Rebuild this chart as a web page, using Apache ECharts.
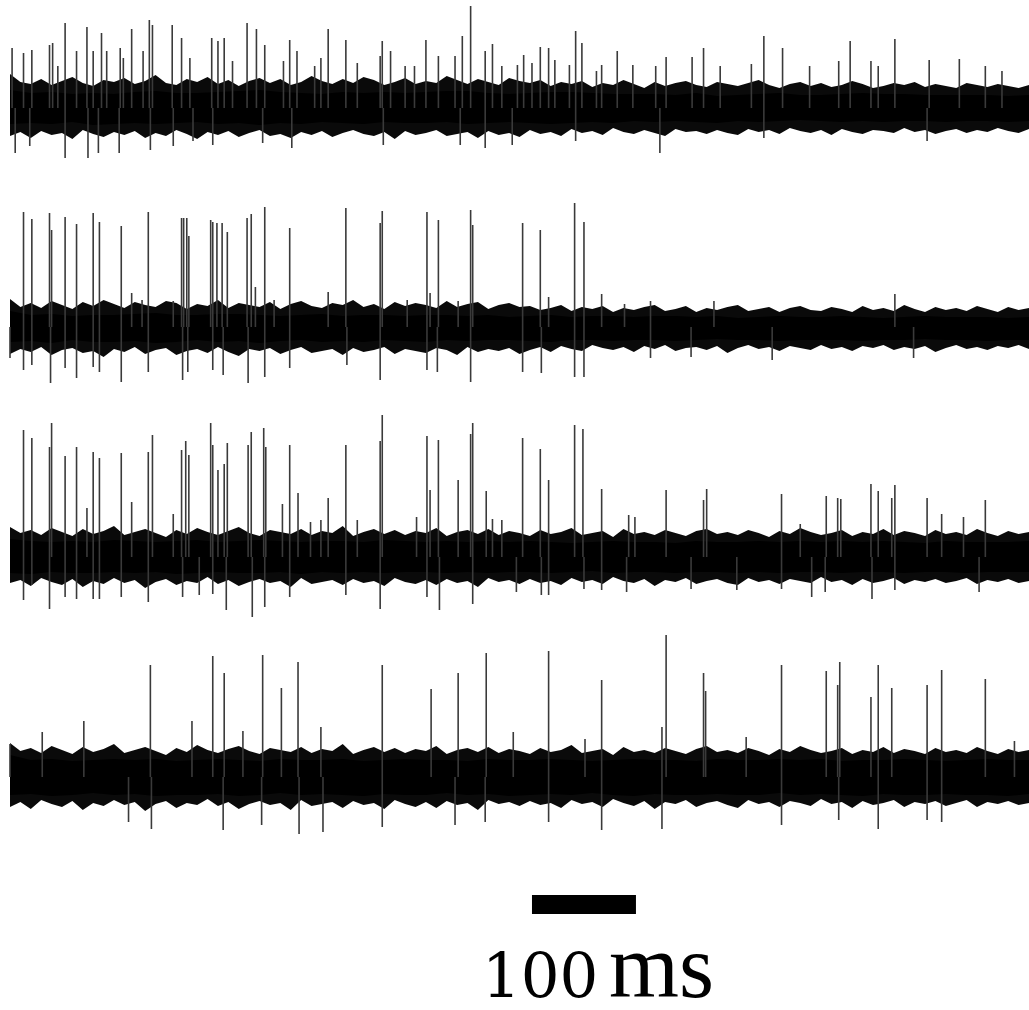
<!DOCTYPE html>
<html>
<head>
<meta charset="utf-8">
<script src="https://cdn.jsdelivr.net/npm/echarts@6/dist/echarts.min.js"></script>
<style>
  html, body { margin: 0; background: #fff; }
  #chart { width: 1029px; height: 1010px; }
</style>
</head>
<body>
<div id="chart"></div>
<script>
// time (ms) where the solid noise core was read, every 20 ms
const coreTimes = [0, 20, 40, 60, 80, 100, 120, 140, 160, 180, 200, 220, 240, 260, 280, 300, 320, 340, 360, 380,
  400, 420, 440, 460, 480, 500, 520, 540, 560, 580, 600, 620, 640, 660, 680, 700, 720, 740, 760, 780,
  800, 820, 840, 860, 880, 900, 920, 940, 960, 980];
// time (ms) where the noise fringe was read, every 10 ms
const fringeTimes = [0, 10, 20, 30, 40, 50, 60, 70, 80, 90, 100, 110, 120, 130, 140, 150, 160, 170, 180, 190,
  200, 210, 220, 230, 240, 250, 260, 270, 280, 290, 300, 310, 320, 330, 340, 350, 360, 370, 380, 390,
  400, 410, 420, 430, 440, 450, 460, 470, 480, 490, 500, 510, 520, 530, 540, 550, 560, 570, 580, 590,
  600, 610, 620, 630, 640, 650, 660, 670, 680, 690, 700, 710, 720, 730, 740, 750, 760, 770, 780, 790,
  800, 810, 820, 830, 840, 850, 860, 870, 880, 890, 900, 910, 920, 930, 940, 950, 960, 970, 980];

// solid core of the noise, upper / lower edge (uV)
const trace1CoreHi = [18, 15, 16, 14, 15, 14, 16, 17, 15, 15, 16, 17, 18, 16, 15, 14, 16, 15, 16, 15,
  16, 17, 17, 15, 14, 15, 16, 16, 15, 14, 14, 14, 13, 15, 12, 13, 14, 15, 13, 13,
  14, 15, 14, 14, 13, 13, 13, 13, 12, 13];
const trace1CoreLo = [-16, -15, -16, -14, -17, -16, -15, -16, -15, -14, -16, -15, -17, -15, -16, -14, -15, -16, -14, -15,
  -15, -14, -16, -15, -14, -15, -16, -15, -14, -15, -13, -14, -13, -14, -15, -13, -14, -13, -12, -13,
  -14, -13, -14, -13, -13, -14, -13, -13, -14, -13];
const trace2CoreHi = [16, 12, 13, 11, 12, 12, 13, 14, 12, 12, 13, 13, 12, 11, 12, 13, 11, 12, 12, 11,
  12, 12, 11, 12, 10, 11, 12, 10, 11, 11, 10, 11, 11, 10, 11, 9, 10, 11, 10, 10,
  11, 10, 9, 10, 11, 10, 10, 10, 9, 10];
const trace2CoreLo = [-15, -14, -16, -13, -15, -15, -14, -16, -15, -13, -15, -14, -16, -14, -13, -15, -14, -15, -13, -14,
  -15, -13, -14, -13, -13, -14, -15, -13, -13, -14, -13, -13, -14, -13, -12, -13, -13, -14, -13, -13,
  -13, -14, -13, -13, -12, -13, -13, -14, -13, -13];
const trace3CoreHi = [18, 16, 15, 16, 15, 17, 16, 15, 16, 17, 15, 16, 17, 16, 15, 16, 16, 15, 17, 16,
  15, 16, 15, 16, 15, 16, 15, 14, 15, 16, 15, 15, 14, 16, 15, 15, 16, 15, 16, 15,
  16, 15, 16, 15, 14, 16, 15, 15, 15, 16];
const trace3CoreLo = [-16, -17, -15, -16, -16, -15, -16, -15, -17, -16, -15, -16, -16, -15, -17, -15, -16, -15, -16, -15,
  -15, -16, -15, -16, -15, -15, -16, -15, -14, -16, -15, -15, -16, -15, -15, -16, -15, -16, -15, -15,
  -16, -15, -15, -16, -15, -15, -16, -15, -15, -15];
const trace4CoreHi = [22, 17, 18, 16, 17, 18, 17, 18, 16, 17, 18, 17, 16, 18, 17, 17, 18, 16, 17, 18,
  17, 17, 16, 18, 17, 17, 18, 17, 16, 17, 18, 17, 17, 16, 18, 17, 17, 18, 17, 18,
  16, 17, 17, 18, 17, 16, 17, 18, 17, 17];
const trace4CoreLo = [-18, -17, -19, -18, -16, -18, -17, -19, -18, -18, -17, -19, -18, -16, -18, -17, -18, -19, -17, -18,
  -18, -16, -18, -17, -19, -18, -17, -18, -16, -18, -19, -17, -18, -18, -17, -18, -18, -16, -18, -17,
  -18, -19, -17, -18, -18, -17, -18, -18, -19, -17];

// noise fringe, reach above / below the core (uV)
const trace1FringeHi = [34, 26, 24, 29, 23, 27, 31, 25, 22, 28, 26, 30, 24, 27, 33, 25, 23, 29, 26, 31,
  24, 28, 22, 27, 30, 25, 29, 23, 26, 32, 27, 24, 29, 25, 31, 28, 23, 26, 30, 24,
  27, 25, 32, 28, 24, 29, 26, 23, 30, 27, 25, 28, 22, 26, 24, 27, 21, 25, 23, 28,
  24, 20, 26, 22, 25, 27, 23, 21, 26, 24, 22, 25, 28, 23, 20, 24, 26, 22, 25, 21,
  23, 27, 24, 20, 22, 25, 23, 26, 21, 24, 22, 20, 25, 23, 21, 24, 22, 20, 23];
const trace1FringeLo = [-28, -24, -30, -23, -27, -25, -31, -22, -26, -29, -24, -27, -23, -30, -25, -28, -22, -26, -31, -24,
  -27, -23, -29, -25, -22, -28, -26, -30, -24, -27, -23, -29, -25, -22, -26, -28, -24, -31, -23, -27,
  -25, -22, -28, -26, -24, -30, -23, -27, -25, -29, -22, -26, -24, -28, -21, -25, -23, -27, -20, -24,
  -26, -22, -25, -28, -21, -24, -23, -26, -22, -25, -27, -21, -24, -22, -26, -20, -23, -25, -22, -27,
  -21, -24, -26, -22, -23, -25, -20, -24, -22, -26, -23, -21, -25, -22, -24, -20, -23, -25, -21];
const trace2FringeHi = [28, 20, 24, 19, 26, 22, 18, 25, 21, 27, 23, 19, 25, 22, 20, 26, 24, 18, 23, 21,
  27, 19, 24, 22, 20, 25, 18, 23, 26, 21, 19, 24, 22, 27, 20, 23, 18, 25, 21, 24,
  22, 19, 26, 20, 23, 25, 18, 22, 24, 20, 21, 17, 19, 22, 16, 20, 18, 21, 15, 19,
  17, 20, 22, 16, 18, 21, 15, 19, 17, 20, 22, 16, 18, 20, 15, 19, 21, 17, 16, 20,
  18, 15, 21, 17, 19, 16, 22, 18, 15, 20, 17, 19, 16, 21, 18, 15, 20, 17, 19];
const trace2FringeLo = [-27, -22, -25, -20, -28, -23, -21, -26, -24, -30, -22, -25, -20, -27, -23, -21, -28, -24, -22, -26,
  -20, -25, -29, -22, -24, -21, -27, -23, -20, -26, -24, -22, -28, -21, -25, -23, -20, -27, -22, -24,
  -26, -21, -23, -28, -20, -25, -22, -24, -21, -27, -23, -20, -25, -19, -22, -24, -18, -21, -23, -20,
  -25, -19, -22, -18, -24, -21, -20, -23, -19, -26, -21, -18, -22, -20, -24, -19, -21, -23, -18, -22,
  -20, -24, -19, -21, -18, -23, -20, -22, -19, -25, -21, -18, -22, -20, -23, -19, -21, -18, -22];
const trace3FringeHi = [30, 24, 27, 22, 29, 25, 21, 28, 23, 26, 31, 22, 25, 28, 24, 20, 27, 23, 29, 25,
  22, 26, 30, 24, 21, 27, 25, 23, 28, 22, 26, 24, 31, 21, 25, 28, 23, 27, 22, 26,
  24, 29, 21, 25, 27, 23, 28, 22, 26, 24, 21, 27, 23, 25, 29, 22, 24, 26, 20, 28,
  23, 25, 22, 27, 24, 21, 26, 28, 23, 25, 22, 27, 24, 20, 26, 23, 29, 25, 22, 24,
  27, 21, 25, 23, 28, 22, 26, 24, 21, 27, 23, 25, 22, 28, 24, 21, 26, 23, 25];
const trace3FringeLo = [-26, -23, -29, -21, -25, -28, -22, -30, -24, -27, -21, -26, -23, -31, -25, -22, -28, -24, -26, -20,
  -27, -23, -29, -25, -22, -26, -24, -30, -21, -27, -25, -23, -28, -22, -26, -24, -29, -21, -25, -27,
  -23, -28, -22, -26, -24, -30, -21, -25, -23, -27, -22, -26, -24, -28, -21, -25, -23, -27, -20, -24,
  -26, -22, -29, -23, -25, -21, -27, -24, -22, -26, -28, -21, -25, -23, -27, -22, -24, -26, -20, -25,
  -23, -28, -22, -26, -24, -21, -27, -23, -25, -22, -26, -24, -21, -27, -23, -25, -22, -26, -24];
const trace4FringeHi = [34, 26, 29, 24, 31, 27, 23, 30, 25, 28, 33, 24, 27, 30, 26, 22, 29, 25, 32, 27,
  24, 28, 31, 26, 23, 29, 27, 25, 30, 24, 28, 26, 33, 23, 27, 30, 25, 29, 24, 28,
  26, 31, 23, 27, 29, 25, 30, 24, 28, 26, 23, 29, 25, 27, 32, 24, 26, 28, 22, 30,
  25, 27, 24, 29, 26, 23, 28, 31, 25, 27, 24, 29, 26, 22, 28, 25, 31, 27, 24, 26,
  29, 23, 27, 25, 30, 24, 28, 26, 23, 29, 25, 27, 24, 30, 26, 23, 28, 25, 27];
const trace4FringeLo = [-30, -25, -32, -23, -27, -30, -24, -33, -26, -29, -23, -28, -25, -34, -27, -24, -31, -26, -28, -22,
  -29, -25, -32, -27, -24, -28, -26, -33, -23, -29, -27, -25, -31, -24, -28, -26, -32, -23, -27, -30,
  -25, -31, -24, -28, -26, -33, -23, -27, -25, -29, -24, -28, -26, -31, -23, -27, -25, -30, -22, -26,
  -29, -24, -32, -25, -27, -23, -30, -26, -24, -28, -31, -23, -27, -25, -30, -24, -26, -29, -22, -27,
  -25, -31, -24, -28, -26, -23, -30, -25, -27, -24, -29, -26, -23, -30, -25, -27, -24, -28, -26];

// spikes: [time ms, peak uV]
const trace1Up = [[2, 60], [13, 55], [21, 58], [38, 63], [41, 65], [46, 42], [53, 85], [64, 57], [74, 81], [80, 57],
  [88, 75], [93, 57], [106, 60], [109, 50], [117, 79], [128, 57], [134, 88], [137, 83], [156, 83], [165, 70],
  [173, 50], [194, 70], [200, 67], [206, 70], [214, 47], [228, 85], [237, 79], [245, 63], [263, 47], [269, 68],
  [276, 57], [293, 42], [299, 50], [306, 79], [323, 68], [334, 45], [356, 52], [358, 67], [366, 57], [380, 42],
  [389, 42], [400, 68], [412, 52], [428, 52], [435, 72], [443, 102], [457, 57], [464, 64], [473, 42], [488, 43],
  [494, 53], [502, 45], [510, 61], [518, 60], [524, 48], [538, 43], [544, 77], [550, 65], [564, 37], [569, 43],
  [584, 57], [599, 43], [621, 42], [631, 51], [656, 51], [667, 60], [683, 42], [713, 44], [725, 72], [743, 60],
  [769, 42], [797, 47], [808, 67], [828, 47], [835, 42], [851, 69], [884, 48], [913, 49], [938, 42], [954, 37]];
const trace1Down = [[5, -45], [19, -38], [53, -50], [75, -50], [85, -45], [105, -45], [135, -42], [157, -38], [176, -33], [195, -37],
  [243, -35], [271, -40], [359, -37], [433, -37], [457, -40], [483, -37], [544, -33], [625, -45], [725, -30], [882, -33]];

const trace2Up = [[13, 115], [21, 108], [38, 114], [40, 97], [53, 110], [64, 103], [80, 114], [86, 105], [107, 101], [117, 34],
  [127, 27], [133, 115], [157, 26], [165, 109], [167, 109], [170, 109], [172, 91], [193, 107], [195, 105], [199, 104],
  [204, 104], [209, 95], [228, 109], [232, 113], [236, 40], [245, 120], [254, 27], [269, 99], [306, 35], [323, 119],
  [356, 104], [358, 116], [382, 27], [401, 115], [404, 34], [412, 107], [431, 26], [443, 117], [445, 102],
  [493, 104], [510, 97], [518, 30], [543, 124], [552, 105], [569, 33], [591, 23], [616, 26], [677, 26], [851, 33]];
const trace2Down = [[0, -31], [13, -43], [21, -38], [39, -56], [53, -41], [64, -51], [80, -40], [86, -45], [107, -55], [133, -45],
  [166, -53], [171, -45], [195, -43], [205, -48], [229, -56], [245, -50], [269, -41], [324, -38], [356, -53], [401, -43],
  [411, -45], [443, -55], [493, -45], [511, -46], [543, -50], [552, -50], [616, -31], [655, -30], [733, -33], [869, -31]];

const trace3Up = [[13, 127], [21, 119], [38, 110], [40, 134], [53, 101], [64, 110], [74, 49], [80, 105], [86, 99], [107, 104],
  [117, 55], [133, 105], [137, 122], [157, 43], [165, 107], [169, 116], [172, 102], [193, 134], [195, 112], [200, 87],
  [206, 93], [209, 114], [229, 112], [232, 125], [244, 129], [246, 110], [262, 53], [269, 112], [277, 64], [289, 35],
  [299, 37], [306, 59], [323, 112], [334, 37], [356, 116], [358, 142], [391, 40], [401, 121], [404, 67], [412, 117],
  [431, 77], [443, 123], [445, 134], [458, 66], [464, 38], [473, 37],
  [493, 119], [510, 108], [518, 77], [543, 132], [551, 128], [569, 68], [595, 42], [601, 40], [631, 67], [667, 57],
  [670, 68], [742, 63], [760, 33], [785, 61], [796, 59], [799, 58], [828, 73], [835, 66], [848, 59], [851, 72],
  [882, 59], [896, 43], [917, 40], [938, 57]];
const trace3Down = [[13, -43], [21, -28], [38, -52], [53, -40], [64, -42], [80, -42], [86, -42], [107, -40], [133, -45], [166, -40],
  [182, -38], [195, -37], [208, -53], [233, -60], [245, -50], [269, -40], [323, -38], [356, -52], [401, -40], [413, -53],
  [445, -47], [487, -35], [511, -38], [518, -38], [552, -32], [569, -33], [593, -35], [655, -32], [699, -33], [742, -32],
  [771, -40], [784, -35], [829, -42], [851, -33], [932, -35]];

const trace4Up = [[0, 33], [31, 45], [71, 56], [135, 112], [175, 56], [195, 121], [206, 104], [224, 46], [243, 122], [261, 89],
  [277, 115], [299, 50], [358, 112], [405, 88], [431, 104], [458, 124], [484, 45],
  [518, 126], [553, 38], [569, 97], [627, 50], [631, 142], [667, 104], [669, 86], [708, 40], [742, 112],
  [785, 106], [796, 92], [798, 115], [828, 80], [835, 112], [848, 89], [882, 92], [896, 107], [938, 98], [966, 36]];
const trace4Down = [[114, -45], [136, -52], [205, -53], [242, -48], [278, -57], [301, -55], [358, -50], [428, -48], [457, -45], [518, -45],
  [569, -53], [627, -52], [742, -48], [797, -43], [835, -52], [882, -43], [896, -45]];

// scale bar: start (ms) and length (ms)
const scaleBarStart = 502;
const scaleBarLength = 100;
const scaleBarNumber = '100';
const scaleBarUnit = 'ms';

const traces = [
  { coreHi: trace1CoreHi, coreLo: trace1CoreLo, fringeHi: trace1FringeHi, fringeLo: trace1FringeLo, up: trace1Up, down: trace1Down },
  { coreHi: trace2CoreHi, coreLo: trace2CoreLo, fringeHi: trace2FringeHi, fringeLo: trace2FringeLo, up: trace2Up, down: trace2Down },
  { coreHi: trace3CoreHi, coreLo: trace3CoreLo, fringeHi: trace3FringeHi, fringeLo: trace3FringeLo, up: trace3Up, down: trace3Down },
  { coreHi: trace4CoreHi, coreLo: trace4CoreLo, fringeHi: trace4FringeHi, fringeLo: trace4FringeLo, up: trace4Up, down: trace4Down }
];

const centers = [108, 327, 557, 777];

const chart = echarts.init(document.getElementById('chart'));

const grids = centers.map(c => ({ left: 10, width: 1019, top: c - 100, height: 200 }));
grids.push({ left: 10, width: 1019, top: 895, height: 19 });

const xAxes = grids.map((g, i) => ({ type: 'value', gridIndex: i, min: 0, max: 980, show: false }));
const yAxes = grids.map((g, i) => ({
  type: 'value', gridIndex: i, min: i < 4 ? -100 : 0, max: i < 4 ? 100 : 1, show: false
}));

// filled band between an upper and a lower edge
function bandSeries(times, hi, lo, i, color) {
  return {
    type: 'custom',
    xAxisIndex: i,
    yAxisIndex: i,
    silent: true,
    data: [[0, 0]],
    renderItem: (params, api) => {
      const upper = times.map((t, k) => api.coord([t, hi[k]]));
      const lower = times.map((t, k) => api.coord([t, lo[k]])).reverse();
      return { type: 'polygon', shape: { points: upper.concat(lower) }, style: { fill: color } };
    }
  };
}

function lineSeries(list, i, color, width) {
  return {
    type: 'custom',
    xAxisIndex: i,
    yAxisIndex: i,
    silent: true,
    data: list,
    renderItem: (params, api) => {
      const a = api.coord([api.value(0), 0]);
      const b = api.coord([api.value(0), api.value(1)]);
      return {
        type: 'line',
        shape: { x1: a[0], y1: a[1], x2: b[0], y2: b[1] },
        style: { stroke: color, lineWidth: width }
      };
    }
  };
}

const series = [];
traces.forEach((tr, i) => {
  series.push(bandSeries(fringeTimes, tr.fringeHi, tr.fringeLo, i, '#0a0a0a'));
  series.push(bandSeries(coreTimes, tr.coreHi, tr.coreLo, i, '#000'));
  series.push(lineSeries(tr.up, i, '#3a3a3a', 1.6));
  series.push(lineSeries(tr.down, i, '#3a3a3a', 1.6));
});
series.push({
  type: 'line',
  xAxisIndex: 4,
  yAxisIndex: 4,
  silent: true,
  symbol: 'none',
  data: [[scaleBarStart, 0.5], [scaleBarStart + scaleBarLength, 0.5]],
  lineStyle: { color: '#000', width: 19, cap: 'butt' }
});

const options = {
  animation: false,
  grid: grids,
  xAxis: xAxes,
  yAxis: yAxes,
  series: series,
  graphic: [{
    type: 'text',
    x: 482,
    y: 981,
    style: {
      text: scaleBarNumber,
      font: '61px "DejaVu Serif"',
      fill: '#000',
      textAlign: 'left',
      textVerticalAlign: 'middle'
    }
  }, {
    type: 'text',
    x: 609,
    y: 973,
    style: {
      text: scaleBarUnit,
      font: '90px "Liberation Serif"',
      fill: '#000',
      textAlign: 'left',
      textVerticalAlign: 'middle'
    }
  }]
};
chart.setOption(options);
</script>
</body>
</html>
